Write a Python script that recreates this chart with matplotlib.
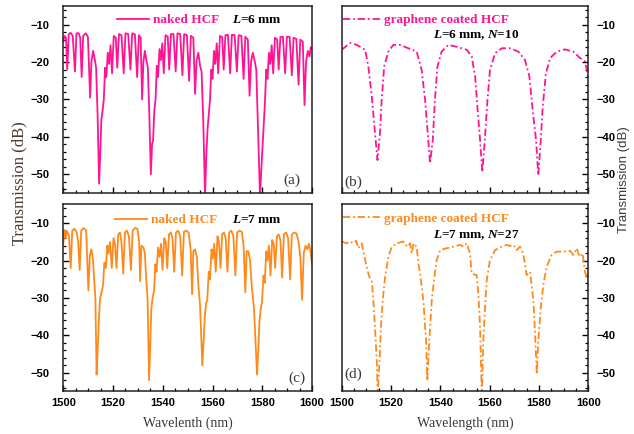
import matplotlib
matplotlib.use("Agg")
import matplotlib.pyplot as plt
from matplotlib.ticker import MultipleLocator

# ---- data (wavelength nm, transmission dB) ----
wl_a = [1500.0, 1500.5, 1501.1, 1501.6, 1502.2, 1503.0, 1503.8, 1504.7, 1505.3, 1506.2,
        1506.8, 1507.4, 1508.0, 1509.0, 1509.9, 1510.8, 1511.3, 1512.0, 1512.6, 1513.2,
        1513.8, 1514.4, 1514.9, 1515.3, 1515.8, 1516.3, 1516.8, 1517.3, 1517.9, 1518.4,
        1519.0, 1519.6, 1520.3, 1521.1, 1521.7, 1522.4, 1523.4, 1524.3, 1525.0, 1526.1,
        1527.0, 1527.7, 1528.8, 1529.7, 1530.4, 1531.1, 1531.7, 1532.2, 1532.8, 1533.4,
        1534.0, 1534.6, 1535.2, 1535.7, 1536.1, 1536.6, 1537.1, 1537.6, 1538.1, 1538.7,
        1539.2, 1539.8, 1540.4, 1541.1, 1542.0, 1542.6, 1543.3, 1544.3, 1545.2, 1545.9,
        1547.0, 1547.9, 1548.6, 1549.7, 1550.6, 1551.3, 1552.3, 1553.0, 1553.6, 1554.3,
        1555.0, 1555.6, 1556.3, 1557.0, 1557.5, 1558.0, 1558.5, 1559.0, 1559.5, 1560.0,
        1560.6, 1561.1, 1561.7, 1562.3, 1563.0, 1563.9, 1564.5, 1565.2, 1566.2, 1567.1,
        1567.8, 1568.9, 1569.8, 1570.5, 1571.6, 1572.5, 1573.2, 1574.2, 1574.9, 1575.5,
        1576.2, 1576.9, 1577.6, 1578.3, 1579.1, 1579.6, 1580.1, 1580.6, 1581.1, 1581.6,
        1582.1, 1582.7, 1583.2, 1583.8, 1584.4, 1585.1, 1586.0, 1586.6, 1587.3, 1588.3,
        1589.2, 1589.9, 1591.0, 1591.9, 1592.6, 1593.7, 1594.6, 1595.3, 1596.3, 1597.0,
        1597.6, 1598.3, 1599.0, 1599.5, 1600.0]
db_a = [-14.5, -13.0, -13.5, -22.0, -12.5, -12.2, -13.0, -22.5, -12.3, -12.3,
        -13.5, -24.0, -13.0, -12.3, -13.2, -29.5, -20.0, -17.0, -19.0, -21.5,
        -34.0, -52.5, -44.0, -35.5, -33.0, -30.0, -21.5, -24.0, -17.5, -20.5,
        -15.5, -23.0, -13.0, -13.5, -21.5, -12.5, -12.8, -23.0, -12.3, -12.5,
        -22.0, -12.3, -12.6, -24.0, -12.8, -13.5, -30.0, -20.0, -17.0, -19.5,
        -21.5, -34.0, -50.0, -42.0, -41.0, -33.0, -30.0, -21.0, -24.0, -16.5,
        -19.5, -15.0, -23.0, -12.8, -13.2, -22.0, -12.5, -12.5, -22.5, -12.3,
        -12.5, -23.5, -12.5, -12.8, -25.0, -13.0, -13.5, -28.5, -19.5, -17.5,
        -21.0, -22.5, -36.0, -56.0, -45.0, -38.0, -34.0, -30.0, -22.0, -24.5,
        -17.0, -20.5, -15.0, -23.0, -13.0, -13.3, -22.0, -12.8, -12.7, -23.0,
        -12.7, -12.8, -22.5, -12.8, -13.0, -24.5, -13.2, -14.0, -29.0, -20.0,
        -17.5, -19.5, -22.0, -38.0, -56.0, -49.0, -43.0, -37.0, -30.5, -22.0,
        -24.5, -17.5, -20.5, -15.5, -23.0, -13.5, -14.0, -22.0, -13.3, -13.2,
        -23.0, -13.2, -13.3, -23.5, -13.5, -13.8, -26.0, -14.0, -14.5, -31.5,
        -20.0, -17.0, -18.5, -16.0, -16.5]

wl_b = [1500.0, 1503.4, 1506.1, 1509.5, 1510.8, 1512.2, 1513.5, 1514.5, 1515.5, 1516.2,
        1517.2, 1518.9, 1520.9, 1523.6, 1527.0, 1530.4, 1532.4, 1533.8, 1535.1, 1535.8,
        1536.9, 1537.8, 1538.8, 1540.5, 1543.2, 1546.6, 1550.7, 1552.7, 1554.1, 1555.0,
        1556.1, 1557.0, 1558.0, 1559.1, 1560.1, 1562.2, 1564.9, 1568.2, 1571.6, 1574.3,
        1576.1, 1577.4, 1578.8, 1579.7, 1580.7, 1581.5, 1582.8, 1584.5, 1587.2, 1590.5,
        1593.9, 1596.6, 1598.6, 1600.0]
db_b = [-16.7, -14.9, -15.4, -16.7, -21.2, -29.2, -39.1, -46.2, -39.1, -30.1,
        -21.2, -17.2, -15.4, -15.4, -16.3, -17.2, -22.1, -30.1, -40.9, -47.1,
        -40.9, -30.1, -21.2, -17.2, -15.4, -15.9, -16.7, -18.5, -23.9, -31.9,
        -40.9, -49.4, -40.9, -30.1, -22.1, -17.6, -16.3, -16.3, -17.2, -19.4,
        -23.9, -32.8, -40.9, -50.3, -40.9, -31.9, -23.0, -18.9, -17.2, -16.6,
        -17.2, -18.9, -19.8, -23.9]

wl_c = [1500.0, 1500.5, 1501.0, 1501.4, 1502.3, 1503.0, 1503.6, 1504.5, 1505.4, 1506.0,
        1506.6, 1507.2, 1508.2, 1509.2, 1510.1, 1510.7, 1511.3, 1511.9, 1512.5, 1512.9,
        1513.4, 1513.9, 1514.3, 1514.8, 1515.4, 1516.0, 1516.5, 1517.1, 1517.7, 1518.2,
        1518.8, 1519.5, 1520.2, 1520.8, 1521.4, 1522.1, 1522.8, 1523.4, 1524.1, 1524.8,
        1525.6, 1526.4, 1527.2, 1527.9, 1528.8, 1529.8, 1530.5, 1530.9, 1531.4, 1532.2,
        1532.8, 1533.4, 1533.9, 1534.5, 1535.0, 1535.4, 1535.9, 1536.5, 1537.0, 1537.5,
        1538.1, 1538.7, 1539.3, 1539.9, 1540.6, 1541.2, 1541.8, 1542.5, 1543.2, 1543.9,
        1544.6, 1545.3, 1546.2, 1547.0, 1547.8, 1548.5, 1549.4, 1550.4, 1551.2, 1551.8,
        1552.3, 1553.0, 1553.7, 1554.3, 1555.0, 1555.9, 1556.4, 1556.9, 1557.4, 1557.9,
        1558.5, 1559.0, 1559.6, 1560.1, 1560.7, 1561.3, 1562.0, 1562.6, 1563.2, 1563.9,
        1564.6, 1565.3, 1566.0, 1566.7, 1567.6, 1568.4, 1569.2, 1569.9, 1570.8, 1571.8,
        1572.5, 1573.2, 1573.7, 1574.4, 1575.1, 1575.8, 1576.7, 1577.9, 1578.4, 1578.9,
        1579.4, 1579.9, 1580.5, 1581.0, 1581.6, 1582.1, 1582.7, 1583.3, 1584.0, 1584.6,
        1585.2, 1585.9, 1586.6, 1587.3, 1588.0, 1588.7, 1589.6, 1590.4, 1591.2, 1591.9,
        1592.8, 1593.8, 1594.6, 1595.3, 1596.0, 1596.7, 1597.4, 1598.1, 1598.8, 1599.4,
        1600.0]
db_c = [-15.5, -11.8, -14.0, -12.0, -13.5, -22.0, -12.0, -11.5, -12.5, -15.0,
        -22.5, -12.0, -11.3, -12.0, -28.0, -18.5, -17.0, -19.5, -26.0, -30.0,
        -50.5, -43.0, -36.0, -30.0, -28.5, -26.5, -20.5, -22.0, -16.0, -18.0,
        -15.0, -22.0, -14.0, -15.5, -22.0, -13.0, -12.5, -15.0, -23.5, -12.5,
        -12.0, -13.5, -22.5, -12.0, -11.3, -11.5, -15.0, -25.5, -16.0, -16.5,
        -18.0, -25.5, -30.0, -52.0, -42.0, -33.0, -30.0, -28.0, -21.0, -23.0,
        -16.5, -19.0, -15.5, -22.5, -14.0, -15.0, -22.0, -13.0, -12.5, -14.0,
        -23.0, -12.5, -12.0, -13.5, -24.0, -12.3, -12.0, -12.5, -17.0, -29.0,
        -17.5, -17.0, -19.0, -26.5, -32.0, -48.0, -42.0, -35.0, -31.5, -30.5,
        -23.0, -25.0, -17.0, -19.5, -15.5, -23.0, -13.5, -15.0, -22.0, -13.0,
        -12.5, -14.0, -23.0, -12.5, -12.0, -13.5, -24.0, -12.5, -12.0, -12.3,
        -16.0, -28.5, -17.5, -17.5, -20.0, -27.0, -33.0, -50.5, -44.0, -36.0,
        -33.0, -31.0, -24.0, -26.0, -17.5, -20.0, -16.0, -24.0, -14.5, -15.5,
        -22.0, -13.5, -13.0, -14.5, -24.5, -13.0, -12.5, -14.0, -25.0, -13.0,
        -12.5, -12.8, -15.0, -19.0, -30.5, -18.0, -16.0, -17.0, -15.5, -17.5,
        -21.0]

wl_d = [1500.0, 1502.0, 1503.4, 1504.7, 1505.8, 1506.8, 1508.1, 1508.8, 1510.1, 1511.2,
        1512.2, 1512.8, 1513.5, 1514.2, 1514.6, 1515.3, 1515.9, 1516.6, 1517.6, 1518.9,
        1520.3, 1522.3, 1525.0, 1526.6, 1527.7, 1528.4, 1529.1, 1530.4, 1531.1, 1531.8,
        1533.1, 1534.2, 1534.7, 1535.5, 1536.5, 1537.4, 1538.5, 1539.9, 1542.6, 1545.3,
        1548.0, 1549.3, 1550.7, 1552.0, 1552.7, 1554.7, 1555.4, 1556.1, 1556.8, 1557.4,
        1558.1, 1558.8, 1560.1, 1562.2, 1564.9, 1566.9, 1568.2, 1569.6, 1570.9, 1572.3,
        1573.6, 1575.0, 1576.4, 1577.7, 1578.4, 1579.1, 1579.7, 1580.7, 1581.8, 1583.1,
        1585.1, 1587.2, 1589.9, 1592.6, 1593.9, 1595.3, 1596.4, 1597.7, 1598.6, 1599.3,
        1600.0]
db_d = [-14.9, -15.4, -14.9, -15.4, -14.7, -16.7, -15.4, -17.6, -21.7, -24.4,
        -25.3, -30.7, -37.9, -46.9, -56.0, -46.9, -37.9, -30.7, -24.4, -19.0,
        -16.3, -15.4, -14.9, -16.3, -15.4, -18.1, -15.4, -16.3, -20.8, -23.5,
        -30.7, -41.5, -52.2, -41.5, -30.7, -25.3, -19.9, -17.2, -16.7, -16.3,
        -15.8, -16.3, -15.4, -18.1, -23.5, -23.9, -28.9, -37.9, -56.0, -41.5,
        -32.5, -25.3, -19.9, -17.2, -16.3, -15.8, -16.1, -15.8, -17.2, -16.3,
        -18.1, -23.9, -23.0, -30.7, -39.7, -50.4, -41.5, -32.5, -26.2, -21.7,
        -18.5, -17.6, -17.6, -17.4, -18.5, -16.7, -19.0, -18.1, -23.0, -24.4,
        -23.0]

PINK = "#ff1493"
ORANGE = "#ff8a1c"
GREY = "#3a3a3a"
DASHDOT = (0, (4.0, 1.6, 1.0, 1.6))

plt.rcParams["font.family"] = ["Liberation Sans", "DejaVu Sans"]
plt.rcParams["font.weight"] = "bold"
plt.rcParams["mathtext.fontset"] = "custom"
plt.rcParams["mathtext.it"] = "Liberation Serif:italic:bold"
plt.rcParams["mathtext.rm"] = "Liberation Serif:bold"

fig = plt.figure(figsize=(6.34, 4.34), dpi=100)
ax_a = fig.add_axes([0.0998, 0.5553, 0.3923, 0.4309])
ax_b = fig.add_axes([0.5390, 0.5553, 0.3890, 0.4309])
ax_c = fig.add_axes([0.0998, 0.0980, 0.3923, 0.4309])
ax_d = fig.add_axes([0.5390, 0.0980, 0.3890, 0.4309])


def style(ax, right_side, show_x):
    ax.set_xlim(1500, 1600)
    ax.set_ylim(-55, -5)
    ax.xaxis.set_major_locator(MultipleLocator(20))
    ax.xaxis.set_minor_locator(MultipleLocator(5))
    ax.set_yticks([-50, -40, -30, -20, -10])
    ax.yaxis.set_minor_locator(MultipleLocator(2))
    ax.tick_params(which="both", direction="in", top=False, labelsize=8,
                   colors="black")
    ax.tick_params(which="major", length=4, width=1.0)
    ax.tick_params(which="minor", length=2.2, width=0.9)
    ax.tick_params(axis="x", pad=4.5, labelbottom=show_x)
    if right_side:
        ax.yaxis.tick_right()
        ax.tick_params(axis="y", which="both", left=False, right=True,
                       labelleft=False, labelright=True, pad=6)
    else:
        ax.tick_params(axis="y", which="both", right=False, pad=10)
    for s in ax.spines.values():
        s.set_linewidth(1.1)
        s.set_color("#222222")


def legend(ax, ls, color, label, hlen):
    ax.plot([], [], ls=ls, color=color, lw=1.3, label=label)
    lg = ax.legend(loc="center left", frameon=False,
                   handlelength=hlen, handletextpad=0.3, borderpad=0,
                   borderaxespad=0, labelcolor=color,
                   prop={"family": "Liberation Serif", "weight": "bold", "size": 9.5})
    return lg


ax_a.plot(wl_a, db_a, color=PINK, lw=1.3)
ax_b.plot(wl_b, db_b, color=PINK, lw=1.3, ls=DASHDOT)
ax_c.plot(wl_c, db_c, color=ORANGE, lw=1.3)
ax_d.plot(wl_d, db_d, color=ORANGE, lw=1.3, ls=DASHDOT)

style(ax_a, False, False)
style(ax_b, True, False)
style(ax_c, False, True)
style(ax_d, True, True)

lg = legend(ax_a, "-", PINK, "naked HCF", 2.4)
lg.set_bbox_to_anchor((0.216, 0.925), transform=ax_a.transAxes)
lg = legend(ax_c, "-", ORANGE, "naked HCF", 2.4)
lg.set_bbox_to_anchor((0.208, 0.915), transform=ax_c.transAxes)
lg = legend(ax_b, DASHDOT, PINK, "graphene coated HCF", 2.8)
lg.set_bbox_to_anchor((0.005, 0.925), transform=ax_b.transAxes)
lg = legend(ax_d, DASHDOT, ORANGE, "graphene coated HCF", 2.8)
lg.set_bbox_to_anchor((0.005, 0.925), transform=ax_d.transAxes)

serif_b = dict(family="Liberation Serif", weight="bold", size=9.5, color="black",
               va="center", ha="left")
ax_a.text(0.678, 0.925, r"$L$=6 mm", transform=ax_a.transAxes, **serif_b)
ax_c.text(0.678, 0.915, r"$L$=7 mm", transform=ax_c.transAxes, **serif_b)
ax_b.text(0.372, 0.845, r"$L$=6 mm, $N$=10", transform=ax_b.transAxes, **serif_b)
ax_d.text(0.372, 0.835, r"$L$=7 mm, $N$=27", transform=ax_d.transAxes, **serif_b)

tag = dict(family="Liberation Serif", weight="normal", size=11, color=GREY,
           va="center", ha="center")
ax_a.text(0.920, 0.070, "(a)", transform=ax_a.transAxes, **tag)
ax_b.text(0.046, 0.055, "(b)", transform=ax_b.transAxes, **tag)
ax_c.text(0.940, 0.072, "(c)", transform=ax_c.transAxes, **tag)
ax_d.text(0.046, 0.094, "(d)", transform=ax_d.transAxes, **tag)

ax_c.set_xlabel("Wavelenth (nm)", family="Liberation Serif", weight="normal",
                size=10, color=GREY, labelpad=6)
ax_d.set_xlabel("Wavelength (nm)", family="Liberation Serif", weight="normal",
                size=10, color=GREY, labelpad=6)
fig.text(0.030, 0.577, "Transmission (dB)", rotation=90, family="Liberation Serif",
         weight="normal", size=12, color="#4a3a30", ha="center", va="center")
fig.text(0.984, 0.585, "Transmission (dB)", rotation=90, family="Liberation Sans",
         weight="normal", size=9.5, color=GREY, ha="center", va="center")

fig.savefig("out.png", dpi=100)
